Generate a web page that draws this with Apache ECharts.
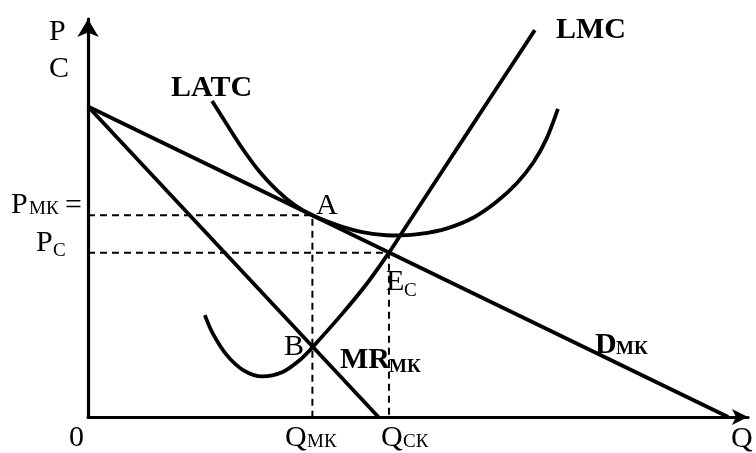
<!DOCTYPE html>
<html>
<head>
<meta charset="utf-8">
<script src="https://cdn.jsdelivr.net/npm/echarts@6/dist/echarts.min.js"></script>
<style>
html,body{margin:0;padding:0;background:#fff;}
#chart{width:756px;height:453px;}
</style>
</head>
<body>
<div id="chart"></div>
<script>
// ---- data (economic units: Q on x, P/C on y) ----
const demandMK = [[0, 78], [97, 0]];
const marginalRevenueMK = [[0, 78], [44, 0]];
const latc = [
  [18.8, 79.4], [21.0, 73.6], [23.5, 67.2], [26.0, 61.6], [28.6, 57.0],
  [31.2, 53.4], [34.0, 50.7], [38.2, 48.0], [42.0, 46.3], [46.2, 45.6],
  [50.3, 46.0], [54.4, 47.4], [58.5, 50.2], [62.0, 54.2], [65.0, 58.8],
  [67.5, 64.0], [69.5, 70.0], [71.2, 77.4]
];
const lmc = [
  [17.7, 25.6], [18.9, 21.0], [21.0, 15.6], [23.5, 11.8], [26.4, 10.2],
  [29.5, 11.3], [32.1, 14.3], [34.0, 17.5], [38.6, 26.1], [42.3, 33.6],
  [45.6, 41.3], [47.3, 45.6], [57.4, 71.2], [67.7, 97.2]
];
const qMK = 34.0, pMK = 50.7;   // points A / B
const qCK = 45.6, pC = 41.3;    // point E_C

const dashPMK = [[0, pMK], [qMK, pMK], [qMK, 0]];
const dashPC = [[0, pC], [qCK, pC], [qCK, 0]];

const SERIF = '"Liberation Serif", "Times New Roman", serif';
const REG = '30px ' + SERIF;
const SUB = '19px ' + SERIF;
const BOLD = 'bold 30px ' + SERIF;
const BOLDSUB = 'bold 19px ' + SERIF;

function txt(text, x, y, font) {
  return {
    type: 'text', x: x, y: y, silent: true, z: 100,
    style: { text: text, font: font, fill: '#000', textAlign: 'left', textVerticalAlign: 'middle' }
  };
}

const chart = echarts.init(document.getElementById('chart'), null, { renderer: 'canvas' });

const solid = { color: '#000', width: 3.8, cap: 'butt' };
const dashed = { color: '#000', width: 2, type: [7, 5] };

chart.setOption({
  animation: false,
  backgroundColor: '#fff',
  grid: { left: 88, top: 19, width: 660, height: 398 },
  xAxis: {
    type: 'value', min: 0, max: 100,
    axisLine: { show: true, symbol: ['none', 'arrow'], symbolSize: [12, 16], lineStyle: { color: '#000', width: 3.2 } },
    axisTick: { show: false }, axisLabel: { show: false }, splitLine: { show: false }
  },
  yAxis: {
    type: 'value', min: 0, max: 100,
    axisLine: { show: true, symbol: ['none', 'arrow'], symbolSize: [16, 18], lineStyle: { color: '#000', width: 3.2 } },
    axisTick: { show: false }, axisLabel: { show: false }, splitLine: { show: false }
  },
  series: [
    { type: 'line', data: dashPMK, showSymbol: false, lineStyle: dashed, z: 1 },
    { type: 'line', data: dashPC, showSymbol: false, lineStyle: dashed, z: 1 },
    { type: 'line', name: 'D', data: demandMK, showSymbol: false, lineStyle: solid, z: 2 },
    { type: 'line', name: 'MR', data: marginalRevenueMK, showSymbol: false, lineStyle: solid, z: 2 },
    { type: 'line', name: 'LATC', data: latc, smooth: 0.3, showSymbol: false, lineStyle: solid, z: 2 },
    { type: 'line', name: 'LMC', data: lmc, smooth: 0.3, showSymbol: false, lineStyle: solid, z: 2 }
  ],
  graphic: [
    txt('P', 49, 32, REG),
    txt('C', 49, 69, REG),
    txt('LATC', 171, 88, BOLD),
    txt('LMC', 556, 30, BOLD),
    txt('P', 11, 205, REG), txt('МК', 29, 209, SUB), txt('=', 65, 206, REG),
    txt('P', 36, 243, REG), txt('С', 53, 251, SUB),
    txt('A', 316, 206, REG),
    txt('B', 284, 347, REG),
    txt('E', 386, 282, REG), txt('С', 404, 291, SUB),
    txt('MR', 340, 360, BOLD), txt('МК', 389, 367, BOLDSUB),
    txt('D', 595, 345, BOLD), txt('МК', 616, 349, BOLDSUB),
    txt('0', 69, 438, REG),
    txt('Q', 285, 438, REG), txt('МК', 307, 442, SUB),
    txt('Q', 381, 438, REG), txt('СК', 403, 442, SUB),
    txt('Q', 731, 439, REG)
  ]
});
</script>
</body>
</html>
